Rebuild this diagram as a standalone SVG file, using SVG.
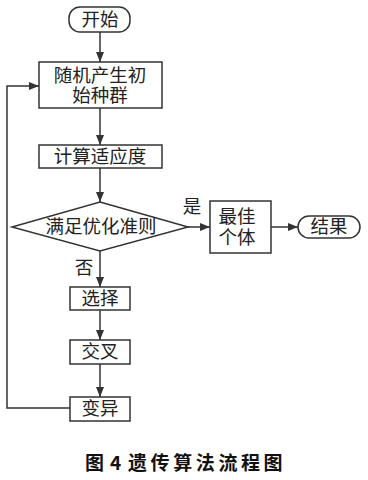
<svg xmlns="http://www.w3.org/2000/svg" width="368" height="480" viewBox="0 0 368 480">
<defs>
<marker id="ah" viewBox="0 0 10 8" refX="10" refY="4" markerWidth="10" markerHeight="8" markerUnits="userSpaceOnUse" orient="auto">
<path d="M0,0 L10,4 L0,8 Z" fill="#333"/>
</marker>
<style>
.n{fill:#fff;stroke:#333;stroke-width:1.5}
.t{font-family:"Liberation Serif","Noto Sans CJK SC",serif;font-size:18.5px;fill:#222;text-anchor:middle;dominant-baseline:central}
.e{fill:none;stroke:#333;stroke-width:1.5;marker-end:url(#ah)}
.c{font-family:"Noto Sans CJK SC",sans-serif;font-size:19px;font-weight:bold;fill:#111;dominant-baseline:central}
</style>
</defs>
<rect width="368" height="480" fill="#fff"/>
<g id="connectors">
<line class="e" x1="100" y1="32" x2="100" y2="62"/>
<line class="e" x1="100" y1="108" x2="100" y2="145"/>
<line class="e" x1="100" y1="168" x2="100" y2="202"/>
<line class="e" x1="188" y1="227" x2="210" y2="227"/>
<line class="e" x1="271" y1="227" x2="298" y2="227"/>
<line class="e" x1="100" y1="251" x2="100" y2="287"/>
<line class="e" x1="100" y1="310" x2="100" y2="340"/>
<line class="e" x1="100" y1="364" x2="100" y2="397"/>
<polyline class="e" points="70,408 7,408 7,86 39,86"/>
<text class="t" x="192" y="207">是</text>
<text class="t" x="84" y="268">否</text>
</g>
<g id="start">
<rect class="n" x="69" y="7" width="61" height="25" rx="11"/>
<text class="t" x="100" y="19.5">开始</text>
</g>
<g id="init">
<rect class="n" x="39" y="62" width="123" height="46"/>
<text class="t" x="100" y="76">随机产生初</text>
<text class="t" x="100" y="96">始种群</text>
</g>
<g id="fitness">
<rect class="n" x="39" y="145" width="123" height="23"/>
<text class="t" x="100" y="156.5">计算适应度</text>
</g>
<g id="decision">
<polygon class="n" points="100,202 188,227 100,251 12,227"/>
<text class="t" x="101" y="227">满足优化准则</text>
</g>
<g id="best">
<rect class="n" x="210" y="201" width="61" height="52"/>
<text class="t" x="237" y="217">最佳</text>
<text class="t" x="237" y="238">个体</text>
</g>
<g id="result">
<rect class="n" x="298" y="216" width="62" height="22" rx="11"/>
<text class="t" x="329" y="227">结果</text>
</g>
<g id="select">
<rect class="n" x="70" y="287" width="60" height="23"/>
<text class="t" x="100" y="298.5">选择</text>
</g>
<g id="crossover">
<rect class="n" x="70" y="340" width="60" height="24"/>
<text class="t" x="100" y="352">交叉</text>
</g>
<g id="mutation">
<rect class="n" x="70" y="397" width="60" height="24"/>
<text class="t" x="100" y="409">变异</text>
</g>
<text class="c" y="461"><tspan x="85">图</tspan><tspan x="110">4</tspan><tspan x="128" letter-spacing="3.6">遗传算法流程图</tspan></text>
</svg>
